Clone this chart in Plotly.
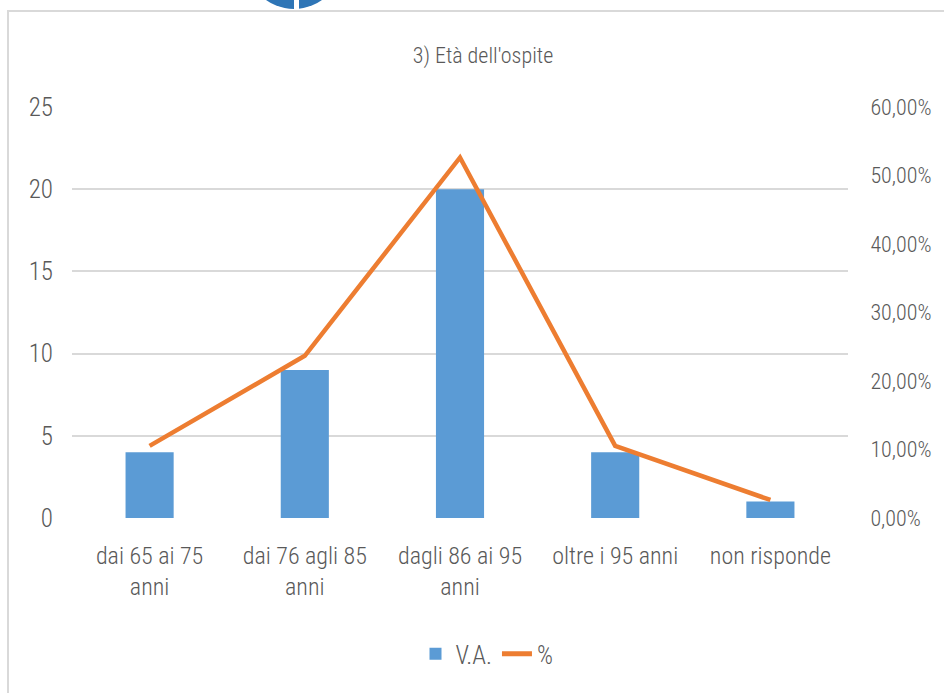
import plotly.graph_objects as go

categories = ["dai 65 ai 75<br>anni", "dai 76 agli 85<br>anni", "dagli 86 ai 95<br>anni",
              "oltre i 95 anni", "non risponde"]
va_values = [4, 9, 20, 4, 1]
pct_values = [0.1053, 0.2368, 0.5263, 0.1053, 0.0263]
left_ticks = [0, 5, 10, 15, 20, 25]
right_ticks = [0, 0.1, 0.2, 0.3, 0.4, 0.5, 0.6]

W, H = 944, 693
L, R, T, B = 72, 848, 107, 518

FONT = "Roboto Condensed, sans-serif"
TXT = "#595959"

def px(x):
    return (x - L) / (R - L)

def py(y):
    return (B - y) / (B - T)

fig = go.Figure()
fig.add_trace(go.Bar(x=categories, y=va_values, name="V.A.", marker_color="#5B9BD5",
                     marker_line_width=0, yaxis="y"))
fig.add_trace(go.Scatter(x=categories, y=pct_values, name="%", mode="lines",
                         line=dict(color="#ED7D31", width=4.5), yaxis="y2"))

shapes = [
    # chart frame
    dict(type="rect", xref="paper", yref="paper",
         x0=px(8), x1=px(960), y0=py(710), y1=py(11),
         fillcolor="white", line=dict(color="#D9D9D9", width=2), layer="below"),
    # logo fragment
    dict(type="circle", xref="paper", yref="paper",
         x0=px(294 - 48), x1=px(294 + 48), y0=py(9), y1=py(-87),
         fillcolor="#2E75B6", line_width=0, layer="below"),
    dict(type="rect", xref="paper", yref="paper",
         x0=px(294), x1=px(299), y0=py(10), y1=py(-5),
         fillcolor="white", line_width=0, layer="below"),
]

fig.update_layout(
    width=W, height=H,
    margin=dict(l=L, r=W - R, t=T, b=H - B, autoexpand=False),
    paper_bgcolor="white", plot_bgcolor="rgba(0,0,0,0)",
    separators=",.",
    font=dict(family=FONT, color=TXT, size=23, weight=300),
    title=dict(text="3) Età dell'ospite", x=483 / W, xanchor="center",
               y=1 - 55 / H, yanchor="middle",
               font=dict(size=22, color=TXT, family=FONT, weight=300)),
    bargap=0.69,
    showlegend=True,
    legend=dict(orientation="h", x=487 / W, xanchor="center", xref="container",
                y=1 - 654 / H, yanchor="middle", yref="container",
                font=dict(size=25, color=TXT, family=FONT, weight=300), itemsizing="constant"),
    xaxis=dict(showgrid=False, showline=False, zeroline=False, automargin=False,
               ticks="outside", ticklen=16, tickcolor="rgba(0,0,0,0)",
               tickfont=dict(size=24)),
    yaxis=dict(range=[0, 25], tickvals=left_ticks, showgrid=True, gridcolor="#D9D9D9",
               gridwidth=1.5, zeroline=False, showline=False, automargin=False,
               ticks="outside", ticklen=13, tickcolor="rgba(0,0,0,0)",
               tickfont=dict(size=25)),
    yaxis2=dict(range=[0, 0.6], tickvals=right_ticks, tickformat=".2%", overlaying="y",
                side="right", showgrid=False, zeroline=False, showline=False, automargin=False,
                ticks="outside", ticklen=17, tickcolor="rgba(0,0,0,0)",
                tickfont=dict(size=22)),
    shapes=shapes,
)

fig.write_html("out.html", config={"displayModeBar": False},
               post_script="document.body.style.margin='0';document.body.style.overflow='hidden';")
